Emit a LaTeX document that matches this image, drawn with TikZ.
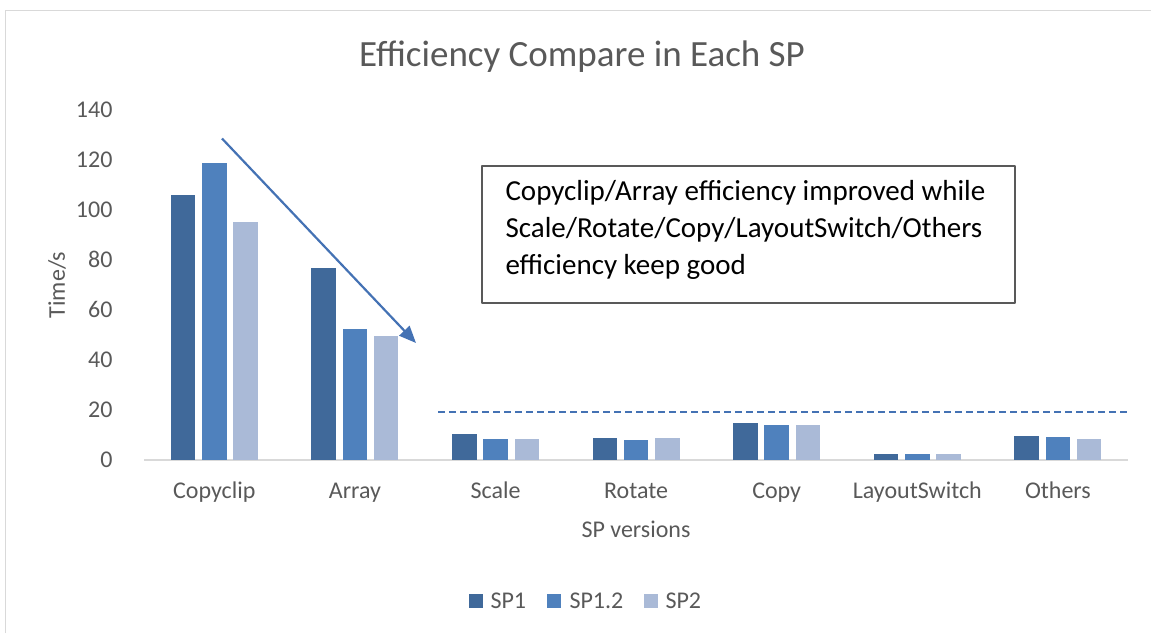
\documentclass[tikz,border=0pt]{standalone}
\usepackage{fontspec}
\setmainfont{Carlito}
\usetikzlibrary{arrows.meta}
\definecolor{txtgray}{RGB}{89,89,89}
\definecolor{linegray}{RGB}{217,217,217}
\definecolor{sponecol}{RGB}{64,105,154}
\definecolor{sponetwocol}{RGB}{79,129,189}
\definecolor{sptwocol}{RGB}{170,186,215}
\definecolor{arrowcol}{RGB}{68,114,180}
\tikzset{
  tick/.style={anchor=base east,text=txtgray,font=\fontsize{24}{28}\selectfont},
  catlabel/.style={anchor=base,text=txtgray,font=\fontsize{24}{28}\selectfont},
  legendlabel/.style={anchor=base west,text=txtgray,font=\fontsize{24}{28}\selectfont},
  barone/.style={fill=sponecol},
  bartwo/.style={fill=sponetwocol},
  barthree/.style={fill=sptwocol},
}
\begin{document}
\begin{tikzpicture}[x=1pt,y=-1pt,line join=bevel]
\useasboundingbox (0,0) rectangle (1151,633);
%%
  % Frame
  \draw[linegray,line width=1.5pt] (5.5,633) -- (5.5,10.5) -- (1151,10.5);
  % Title
  \node[anchor=base,text=txtgray,font=\fontsize{37}{44}\selectfont] (title) at (582,66) {Efficiency Compare in Each SP};
  % Axis
  \draw[linegray,line width=1.5pt] (144,460) -- (1128,460);
  \node[tick] (t0) at (116,467) {0};
  \node[tick] (t20) at (116,417) {20};
  \node[tick] (t40) at (116,367) {40};
  \node[tick] (t60) at (116,317) {60};
  \node[tick] (t80) at (116,267) {80};
  \node[tick] (t100) at (116,217) {100};
  \node[tick] (t120) at (116,167) {120};
  \node[tick] (t140) at (116,117) {140};
  \node[rotate=90,text=txtgray,font=\fontsize{24}{28}\selectfont] (ytitle) at (57,285) {Time/s};
  % Bars: Copyclip
  \fill[barone] (170.8,460) rectangle (195.3,195);
  \fill[bartwo] (202.0,460) rectangle (226.5,162.5);
  \fill[barthree] (233.3,460) rectangle (257.8,221.7);
  % Bars: Array
  \fill[barone] (311.4,460) rectangle (335.9,268);
  \fill[bartwo] (342.6,460) rectangle (367.1,329);
  \fill[barthree] (373.9,460) rectangle (398.4,336);
  % Bars: Scale
  \fill[barone] (452.0,460) rectangle (476.5,434);
  \fill[bartwo] (483.2,460) rectangle (507.7,439);
  \fill[barthree] (514.5,460) rectangle (539.0,439);
  % Bars: Rotate
  \fill[barone] (592.6,460) rectangle (617.1,437.7);
  \fill[bartwo] (623.8,460) rectangle (648.3,440.3);
  \fill[barthree] (655.1,460) rectangle (679.6,438.3);
  % Bars: Copy
  \fill[barone] (733.2,460) rectangle (757.7,423.3);
  \fill[bartwo] (764.4,460) rectangle (788.9,424.7);
  \fill[barthree] (795.7,460) rectangle (820.2,425);
  % Bars: LayoutSwitch
  \fill[barone] (873.8,460) rectangle (898.3,454);
  \fill[bartwo] (905.0,460) rectangle (929.5,454);
  \fill[barthree] (936.3,460) rectangle (960.8,454);
  % Bars: Others
  \fill[barone] (1014.4,460) rectangle (1038.9,436);
  \fill[bartwo] (1045.6,460) rectangle (1070.1,436.7);
  \fill[barthree] (1076.9,460) rectangle (1101.4,439);
  % Category labels
  \node[catlabel] (copyclip) at (214.3,498) {Copyclip};
  \node[catlabel] (array) at (354.9,498) {Array};
  \node[catlabel] (scale) at (495.5,498) {Scale};
  \node[catlabel] (rotate) at (636.1,498) {Rotate};
  \node[catlabel] (copy) at (776.7,498) {Copy};
  \node[catlabel] (layoutswitch) at (917.3,498) {LayoutSwitch};
  \node[catlabel] (others) at (1057.9,498) {Others};
  \node[catlabel] (xtitle) at (636,537) {SP versions};
  % Threshold line
  \coordinate (dashstart) at (438,412.3);
  \coordinate (dashend) at (1128,412.3);
  \draw[arrowcol,line width=2pt,dash pattern=on 6.5pt off 4.5pt] (dashstart) -- (dashend);
  % Trend arrow
  \coordinate (trendstart) at (222,138.5);
  \coordinate (trendend) at (416,343);
  \draw[arrowcol,line width=2.2pt,-{Triangle[length=17pt,width=14pt]}] (trendstart) -- (trendend);
  % Note box
  \draw[txtgray,line width=1.5pt] (482,166) rectangle (1015,303);
  \node[anchor=base west,align=left,font=\fontsize{29}{37}\selectfont] (note) at (502,274)
    {Copyclip/Array efficiency improved while\\Scale/Rotate/Copy/LayoutSwitch/Others\\efficiency keep good};
  % Legend
  \fill[barone] (469,594) rectangle (483,608);
  \node[legendlabel] (lgone) at (487,608) {SP1};
  \fill[bartwo] (547,594) rectangle (561,608);
  \node[legendlabel] (lgtwo) at (566,608) {SP1.2};
  \fill[barthree] (644,594) rectangle (658,608);
  \node[legendlabel] (lgthree) at (662,608) {SP2};
%
\end{tikzpicture}
\end{document}
